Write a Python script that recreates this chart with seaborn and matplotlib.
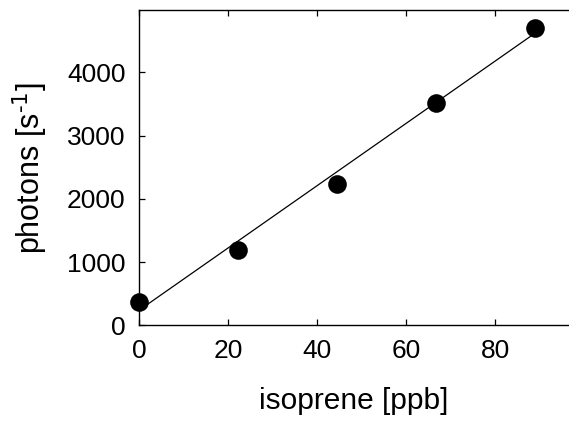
import matplotlib
matplotlib.use("Agg")
import matplotlib.pyplot as plt
import seaborn as sns
import pandas as pd

# data
isoprene_ppb = [0.0, 22.2, 44.4, 66.7, 88.9]
photons = [368, 1190, 2229, 3510, 4700]
fit_x = [0.0, 88.9]
fit_y = [240, 4615]
x_ticks = [0, 20, 40, 60, 80]
y_ticks = [0, 1000, 2000, 3000, 4000]

sns.set_style("ticks")
plt.rcParams["font.family"] = ["Liberation Sans", "DejaVu Sans"]
plt.rcParams["xtick.direction"] = "in"
plt.rcParams["ytick.direction"] = "in"
plt.rcParams["text.color"] = "black"
plt.rcParams["axes.labelcolor"] = "black"
plt.rcParams["xtick.labelcolor"] = "black"
plt.rcParams["ytick.labelcolor"] = "black"

fig = plt.figure(figsize=(5.69, 4.23), dpi=100)
ax = fig.add_axes([0.2448, 0.231, 0.7552, 0.7447])

df_pts = pd.DataFrame({"x": isoprene_ppb, "y": photons})
df_fit = pd.DataFrame({"x": fit_x, "y": fit_y})

sns.lineplot(data=df_fit, x="x", y="y", ax=ax, color="black", linewidth=0.9)
sns.scatterplot(data=df_pts, x="x", y="y", ax=ax, color="black", s=180,
                edgecolor="black", linewidth=0, zorder=3, clip_on=False)

ax.set_xlim(0, 96.6)
ax.set_ylim(0, 4980)
ax.set_xticks(x_ticks)
ax.set_yticks(y_ticks)
ax.tick_params(axis="x", top=True, bottom=True, length=4.5, width=0.9,
               labelsize=19, pad=10, color="black", labelcolor="black")
ax.tick_params(axis="y", left=True, right=False, length=4.5, width=0.9,
               labelsize=19, pad=10, color="black", labelcolor="black")
for side in ["left", "bottom", "top"]:
    ax.spines[side].set_linewidth(1.0)
    ax.spines[side].set_color("black")
ax.spines["right"].set_visible(False)

ax.set_xlabel("isoprene [ppb]", fontsize=21.5, labelpad=17, color="black")
ax.set_ylabel(r"photons [s$^{\text{-1}}$]", fontsize=22, labelpad=12, color="black")

fig.savefig("out.png", dpi=100)
